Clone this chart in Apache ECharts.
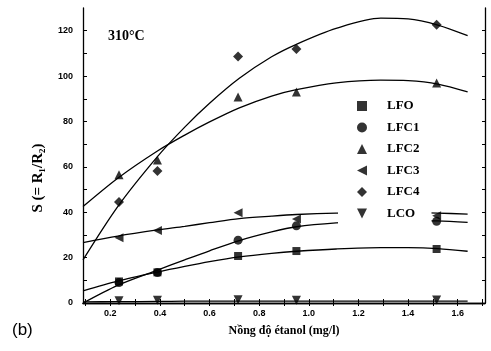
<!DOCTYPE html>
<html>
<head>
<meta charset="utf-8">
<script src="https://cdn.jsdelivr.net/npm/echarts@6/dist/echarts.min.js"></script>
<style>
  html, body { margin: 0; background: #fff; }
  #chart { width: 491px; height: 351px; }
</style>
</head>
<body>
<div id="chart"></div>
<script>
// measured points
const seriesNames = ['LFO', 'LFC1', 'LFC2', 'LFC3', 'LFC4', 'LCO'];
const conc = [0.235, 0.39, 0.715, 0.95, 1.515];
const lfo = [9.5, 13.5, 20.7, 22.9, 23.8];
const lfc1 = [9, 13.4, 27.7, 34, 36];
const lfc2 = [56.5, 63, 90.8, 93, 97];
const lfc3 = [28.8, 32, 39.8, 37, 38.5];
const lfc4 = [44.5, 58.2, 108.6, 111.9, 122.6];
const lco = [1, 1.2, 1.4, 1.2, 1.3];

// fitted curves
const fitX = [0.09, 0.23, 0.39, 0.5, 0.6, 0.72, 0.85, 0.95, 1.11, 1.29, 1.4, 1.52, 1.64];
const fitLfo = [5.3, 9.6, 13.6, 16.1, 18.2, 20.3, 21.9, 22.8, 23.8, 24.4, 24.4, 24, 22.8];
const fitLfc1 = [0, 7.8, 14.5, 19, 23, 27.5, 31.3, 33.6, 35.3, 36.2, 36.3, 36.2, 35.5];
const fitLfc2 = [42.5, 55, 67, 74, 79.8, 86, 91.2, 94, 97, 98.2, 98, 96.5, 93];
const fitLfc3 = [26.6, 29.5, 32.2, 33.8, 35.4, 37.2, 38.3, 39, 39.6, 39.8, 39.8, 39.6, 39.2];
const fitLfc4 = [19, 42.5, 64.5, 77.5, 88, 99, 108.5, 114, 121, 125.5, 125.2, 122.5, 117.8];
const fitLco = [0.5, 0.6, 0.7, 0.8, 0.8, 0.8, 0.8, 0.8, 0.8, 0.8, 0.8, 0.8, 0.8];

const xLabels = [0.2, 0.4, 0.6, 0.8, 1.0, 1.2, 1.4, 1.6];
const xTicks = [0.1, 0.2, 0.3, 0.4, 0.5, 0.6, 0.7, 0.8, 0.9, 1.0, 1.1, 1.2, 1.3, 1.4, 1.5, 1.6, 1.7];
const yLabels = [0, 20, 40, 60, 80, 100, 120];
const yTicks = [0, 10, 20, 30, 40, 50, 60, 70, 80, 90, 100, 110, 120];

const chart = echarts.init(document.getElementById('chart'));

const serif = 'Liberation Serif';
// rotated triangles need their own legend icons
const leftTri = 'path://M0,5L10,0L10,10Z';
const downTri = 'path://M0,0L10,0L5,10Z';
const marks = [
  { name: 'LFO', vals: lfo, fit: fitLfo, symbol: 'rect', size: 8, rot: 0, icon: 'rect' },
  { name: 'LFC1', vals: lfc1, fit: fitLfc1, symbol: 'circle', size: 9, rot: 0, icon: 'circle' },
  { name: 'LFC2', vals: lfc2, fit: fitLfc2, symbol: 'triangle', size: 9, rot: 0, icon: 'triangle' },
  { name: 'LFC3', vals: lfc3, fit: fitLfc3, symbol: 'triangle', size: 9, rot: 90, icon: leftTri },
  { name: 'LFC4', vals: lfc4, fit: fitLfc4, symbol: 'diamond', size: 10, rot: 0, icon: 'diamond' },
  { name: 'LCO', vals: lco, fit: fitLco, symbol: 'triangle', size: 9, rot: 180, icon: downTri },
];

const series = [];
marks.forEach(m => {
  series.push({
    name: m.name + ' fit',
    type: 'line',
    smooth: 0.3,
    showSymbol: false,
    silent: true,
    lineStyle: { color: '#000', width: 1.3 },
    data: fitX.map((x, i) => [x, m.fit[i]]),
    z: 2,
  });
  series.push({
    name: m.name,
    type: 'scatter',
    symbol: m.symbol,
    symbolSize: m.size,
    symbolRotate: m.rot,
    itemStyle: { color: '#000' },
    data: conc.map((x, i) => [x, m.vals[i]]),
    z: 3,
  });
});

const axisCommon = {
  axisLine: { show: true, lineStyle: { color: '#000', width: 1.3 } },
  splitLine: { show: false },
};

chart.setOption({
  animation: false,
  grid: { left: 83, right: 6, top: 8, bottom: 48 },
  xAxis: [
    {
      ...axisCommon,
      type: 'value', min: 0.09, max: 1.71, position: 'bottom',
      axisTick: { inside: true, length: 4, customValues: xTicks, lineStyle: { color: '#000' } },
      axisLabel: {
        customValues: xLabels, margin: 6, color: '#000',
        fontFamily: 'Liberation Sans', fontWeight: 'bold', fontSize: 9,
        formatter: v => v.toFixed(1),
      },
      name: 'Nồng độ étanol (mg/l)',
      nameLocation: 'middle', nameGap: 22,
      nameTextStyle: { fontFamily: serif, fontWeight: 'bold', fontSize: 12, color: '#000' },
    },
    {
      ...axisCommon,
      type: 'value', min: 0.09, max: 1.71, position: 'top',
      axisTick: { inside: true, length: 3, customValues: xTicks, lineStyle: { color: '#000' } },
      axisLabel: { show: false },
    },
  ],
  yAxis: [
    {
      ...axisCommon,
      type: 'value', min: 0, max: 130,
      axisTick: { inside: true, length: 4, customValues: yTicks, lineStyle: { color: '#000' } },
      axisLabel: {
        customValues: yLabels, margin: 10, color: '#000',
        fontFamily: 'Liberation Sans', fontWeight: 'bold', fontSize: 9,
      },
    },
    {
      ...axisCommon,
      type: 'value', min: 0, max: 130, position: 'right',
      axisTick: { inside: true, length: 3, customValues: yTicks, lineStyle: { color: '#000' } },
      axisLabel: { show: false },
    },
  ],
  legend: {
    data: marks.map(m => ({ name: m.name, icon: m.icon })),
    orient: 'vertical',
    left: 338, top: 95,
    backgroundColor: '#fff',
    padding: [4, 12, 4, 19],
    itemWidth: 10, itemHeight: 10, itemGap: 7.5,
    textStyle: {
      fontFamily: serif, fontWeight: 'bold', fontSize: 13, color: '#000',
      lineHeight: 14, padding: [0, 0, 0, 15],
    },
    z: 5,
  },
  graphic: [
    {
      type: 'text', left: 108, top: 29,
      style: { text: '310°C', font: 'bold 14px "Liberation Serif"', fill: '#000' },
    },
    {
      type: 'text', x: 38, y: 178, rotation: Math.PI / 2,
      style: {
        text: 'S (= R₁/R₂)', font: 'bold 15px "Liberation Serif"', fill: '#000',
        align: 'center', verticalAlign: 'middle',
      },
    },
    {
      type: 'text', left: 12, top: 322,
      style: { text: '(b)', font: '17px "Liberation Sans"', fill: '#000' },
    },
  ],
  series: series,
});
</script>
</body>
</html>
